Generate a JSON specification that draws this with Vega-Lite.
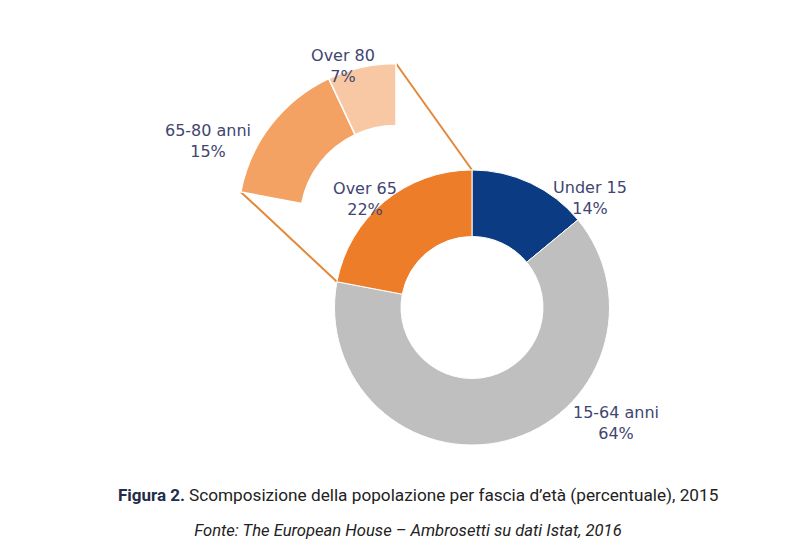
{
  "$schema": "https://vega.github.io/schema/vega-lite/v6.json",
  "width": 788,
  "height": 560,
  "autosize": {"type": "fit", "contains": "padding"},
  "padding": 0,
  "background": "white",
  "config": {"view": {"stroke": null}},
  "datasets": {
    "main": [
      {"group": "Under 15", "pct": 14, "k": 1},
      {"group": "15-64 anni", "pct": 64, "k": 2},
      {"group": "Over 65", "pct": 22, "k": 3}
    ],
    "over65": [
      {"group": "65-80 anni", "pct": 15, "k": 1},
      {"group": "Over 80", "pct": 7, "k": 2}
    ]
  },
  "layer": [
    {
      "data": {"values": [{}]},
      "mark": {"type": "rule", "color": "#e3883a", "strokeWidth": 2},
      "encoding": {
        "x": {"datum": 240.8, "type": "quantitative", "scale": {"domain": [0, 788], "nice": false, "zero": false}, "axis": null},
        "y": {"datum": 191.9, "type": "quantitative", "scale": {"domain": [560, 0], "nice": false, "zero": false}, "axis": null},
        "x2": {"datum": 336.9},
        "y2": {"datum": 281.7}
      }
    },
    {
      "data": {"values": [{}]},
      "mark": {"type": "rule", "color": "#e3883a", "strokeWidth": 2},
      "encoding": {
        "x": {"datum": 396, "type": "quantitative"},
        "y": {"datum": 63.5, "type": "quantitative"},
        "x2": {"datum": 472},
        "y2": {"datum": 170}
      }
    },
    {
      "data": {"name": "main"},
      "mark": {"type": "arc", "radius": 137.5, "radius2": 71, "stroke": "white", "strokeWidth": 1},
      "encoding": {
        "x": {"datum": 472, "type": "quantitative"},
        "y": {"datum": 307.5, "type": "quantitative"},
        "theta": {"field": "pct", "type": "quantitative", "stack": true, "scale": {"domain": [0, 100], "range": [0, 6.283185]}},
        "order": {"field": "k"},
        "color": {
          "field": "group", "type": "nominal", "legend": null,
          "scale": {
            "domain": ["Under 15", "15-64 anni", "Over 65", "65-80 anni", "Over 80"],
            "range": ["#0b3b82", "#bfbfbf", "#ee7d2a", "#f4a263", "#f8c8a4"]
          }
        }
      }
    },
    {
      "data": {"name": "over65"},
      "mark": {"type": "arc", "radius": 158, "radius2": 96, "stroke": "white", "strokeWidth": 1.5},
      "encoding": {
        "x": {"datum": 396, "type": "quantitative"},
        "y": {"datum": 221.5, "type": "quantitative"},
        "theta": {"field": "pct", "type": "quantitative", "stack": true, "scale": {"domain": [0, 22], "range": [4.900885, 6.283185]}},
        "order": {"field": "k"},
        "color": {"field": "group", "type": "nominal", "legend": null}
      }
    },
    {
      "data": {"name": "main"},
      "transform": [
        {"filter": "datum.group === 'Under 15'"},
        {"calculate": "[datum.group, datum.pct + '%']", "as": "label"}
      ],
      "mark": {"type": "text", "font": "DejaVu Sans", "fontSize": 16, "color": "#41456f", "align": "center", "baseline": "middle", "lineHeight": 21},
      "encoding": {
        "x": {"datum": 590, "type": "quantitative"},
        "y": {"datum": 188, "type": "quantitative"},
        "text": {"field": "label"}
      }
    },
    {
      "data": {"name": "main"},
      "transform": [
        {"filter": "datum.group === '15-64 anni'"},
        {"calculate": "[datum.group, datum.pct + '%']", "as": "label"}
      ],
      "mark": {"type": "text", "font": "DejaVu Sans", "fontSize": 16, "color": "#41456f", "align": "center", "baseline": "middle", "lineHeight": 21},
      "encoding": {
        "x": {"datum": 616, "type": "quantitative"},
        "y": {"datum": 412.5, "type": "quantitative"},
        "text": {"field": "label"}
      }
    },
    {
      "data": {"name": "main"},
      "transform": [
        {"filter": "datum.group === 'Over 65'"},
        {"calculate": "[datum.group, datum.pct + '%']", "as": "label"}
      ],
      "mark": {"type": "text", "font": "DejaVu Sans", "fontSize": 16, "color": "#41456f", "align": "center", "baseline": "middle", "lineHeight": 21},
      "encoding": {
        "x": {"datum": 365, "type": "quantitative"},
        "y": {"datum": 189, "type": "quantitative"},
        "text": {"field": "label"}
      }
    },
    {
      "data": {"name": "over65"},
      "transform": [
        {"filter": "datum.group === '65-80 anni'"},
        {"calculate": "[datum.group, datum.pct + '%']", "as": "label"}
      ],
      "mark": {"type": "text", "font": "DejaVu Sans", "fontSize": 16, "color": "#41456f", "align": "center", "baseline": "middle", "lineHeight": 21},
      "encoding": {
        "x": {"datum": 208, "type": "quantitative"},
        "y": {"datum": 131, "type": "quantitative"},
        "text": {"field": "label"}
      }
    },
    {
      "data": {"name": "over65"},
      "transform": [
        {"filter": "datum.group === 'Over 80'"},
        {"calculate": "[datum.group, datum.pct + '%']", "as": "label"}
      ],
      "mark": {"type": "text", "font": "DejaVu Sans", "fontSize": 16, "color": "#41456f", "align": "center", "baseline": "middle", "lineHeight": 21},
      "encoding": {
        "x": {"datum": 343, "type": "quantitative"},
        "y": {"datum": 55.5, "type": "quantitative"},
        "text": {"field": "label"}
      }
    },
    {
      "data": {"values": [{"t": "Figura 2."}]},
      "mark": {"type": "text", "font": "Roboto", "fontSize": 17, "fontWeight": "bold", "color": "#1f2d4a", "align": "right", "baseline": "middle"},
      "encoding": {
        "x": {"datum": 185, "type": "quantitative"},
        "y": {"datum": 496, "type": "quantitative"},
        "text": {"field": "t"}
      }
    },
    {
      "data": {"values": [{"t": "Scomposizione della popolazione per fascia d’età (percentuale), 2015"}]},
      "mark": {"type": "text", "font": "Roboto", "fontSize": 17.2, "color": "#222222", "align": "left", "baseline": "middle"},
      "encoding": {
        "x": {"datum": 189, "type": "quantitative"},
        "y": {"datum": 496, "type": "quantitative"},
        "text": {"field": "t"}
      }
    },
    {
      "data": {"values": [{"t": "Fonte: The European House – Ambrosetti su dati Istat, 2016"}]},
      "mark": {"type": "text", "font": "Roboto", "fontSize": 16.6, "fontStyle": "italic", "color": "#222222", "align": "center", "baseline": "middle"},
      "encoding": {
        "x": {"datum": 408, "type": "quantitative"},
        "y": {"datum": 531, "type": "quantitative"},
        "text": {"field": "t"}
      }
    }
  ],
  "resolve": {"scale": {"theta": "independent"}}
}
